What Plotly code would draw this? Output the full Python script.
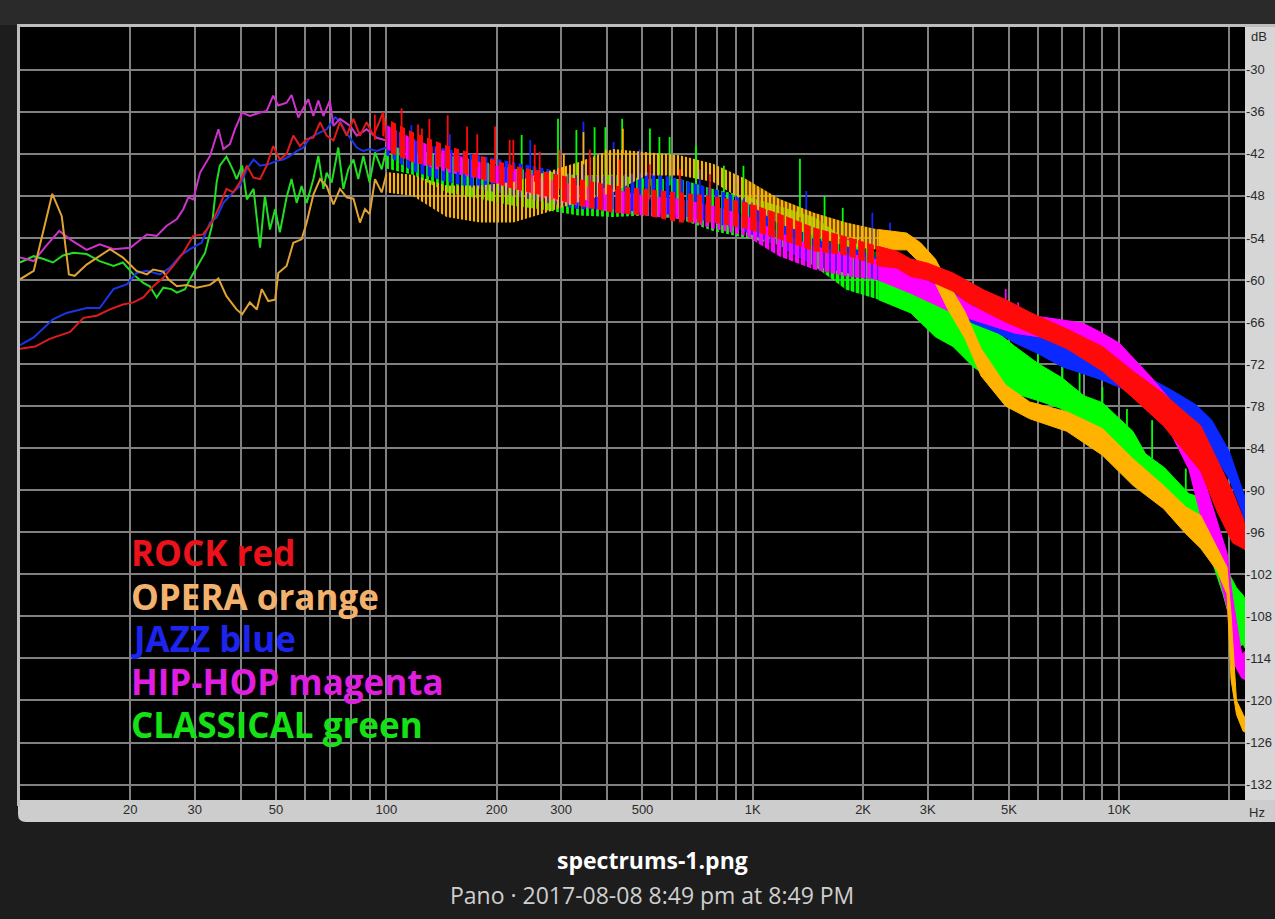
import math
import plotly.graph_objects as go

# ---------------- data ----------------
# Low-frequency thin curves (Hz, dB)
rock_line_f = [10, 11.0, 12.05, 13.7, 14.9, 16.2, 17.6, 19.1, 20.4, 21.7, 23.1, 24.6, 26.2, 27.9, 29.7, 31.6,
               33.4, 35.1, 36.6, 38.2, 39.8, 41.6, 43.4, 45.2, 47.1, 49.1, 51.2, 53.4, 55.7, 58.1, 60.6, 63.2,
               65.9, 68.7, 71.7, 74.7, 77.9, 81.3, 84.7, 88.3, 92.2, 98.0, 100]
rock_line_db = [-69.8, -69.5, -68.4, -67.4, -65.4, -65.1, -64.2, -63.5, -63.2, -62.5, -60.9, -59.7, -58.0, -56.1,
                -53.7, -53.5, -51.8, -49.4, -47.0, -47.5, -46.1, -43.7, -45.4, -45.6, -43.7, -40.9, -42.8, -42.0,
                -39.4, -40.9, -39.9, -39.7, -37.5, -39.4, -40.1, -37.5, -39.4, -37.0, -39.4, -37.5, -39.4, -36.1,
                -40.4]

opera_line_f = [10, 10.9, 12.25, 13.0, 13.6, 14.1, 15.2, 17.6, 19.1, 20.8, 22.2, 23.1, 24.6, 25.4, 26.8, 28.5,
                30.3, 33.0, 34.8, 36.6, 39.0, 40.4, 42.4, 44.3, 45.7, 47.6, 49.7, 50.7, 53.4, 55.7, 58.7, 60.6,
                63.2, 65.9, 68.7, 71.7, 74.7, 77.9, 81.3, 84.7, 87.4, 90, 93.1, 97.1, 100]
opera_line_db = [-59.9, -58.7, -47.7, -50.9, -59.2, -59.4, -57.8, -55.6, -56.8, -58.7, -59.2, -58.5, -58.8, -59.9,
                 -60.9, -60.7, -61.1, -60.7, -59.8, -62.3, -64.2, -64.9, -63.2, -64.2, -61.3, -63.0, -62.8, -59.0,
                 -58.0, -54.7, -54.2, -51.8, -47.8, -45.6, -46.6, -49.2, -47.0, -48.2, -48.4, -51.8, -49.9, -50.6,
                 -45.6, -47.5, -44.9]

jazz_line_f = [10, 10.9, 12.3, 13.4, 15.2, 16.5, 18.0, 19.6, 20.8, 22.2, 24.1, 25.7, 27.3, 29.1, 31.3, 33.0,
               34.4, 35.9, 38.2, 39.8, 41.6, 43.4, 45.2, 47.6, 50.2, 52.3, 54.6, 56.9, 59.3, 61.9, 64.5, 68.7,
               72.4, 74.7, 77.1, 79.6, 83.0, 86.5, 90, 94.1, 100]
jazz_line_db = [-69.3, -68.2, -65.6, -64.7, -64.0, -64.0, -61.3, -60.6, -59.0, -58.7, -59.2, -58.2, -56.6, -55.6,
                -54.7, -51.8, -51.1, -49.0, -47.5, -46.6, -44.2, -42.8, -43.7, -43.5, -43.0, -42.8, -42.3, -41.6,
                -41.1, -39.7, -39.2, -38.5, -36.8, -37.3, -38.7, -39.7, -41.1, -41.6, -41.3, -41.6, -41.1]

hiphop_line_f = [10, 10.9, 11.8, 12.8, 13.7, 15.2, 16.5, 18.0, 20.0, 22.2, 23.6, 25.1, 26.8, 27.9, 28.8, 29.7,
                 31.0, 33.0, 34.8, 35.9, 37.4, 38.6, 40.4, 42.4, 45.2, 47.1, 49.1, 50.7, 53.4, 55.1, 57.5, 61.2,
                 63.2, 65.2, 67.3, 70.1, 71.7, 74.7, 79.6, 83.0, 88.3, 94.1, 100]
hiphop_line_db = [-56.8, -57.3, -55.1, -53.0, -54.2, -55.7, -54.9, -55.6, -55.4, -53.5, -53.7, -52.3, -51.3, -49.9,
                  -48.2, -48.5, -44.7, -42.3, -38.5, -41.3, -40.6, -38.5, -36.1, -36.6, -36.1, -35.9, -33.7, -35.1,
                  -34.7, -33.6, -36.8, -34.2, -36.6, -34.4, -36.6, -34.4, -38.0, -37.0, -38.0, -39.4, -38.5, -39.7,
                  -40.1]

classical_line_f = [10, 10.9, 11.6, 12.3, 13.1, 14.0, 15.2, 16.5, 18.0, 19.1, 20.4, 21.7, 22.6, 23.6, 24.6, 25.9,
                    26.8, 28.2, 29.1, 30.3, 32.0, 33.4, 34.4, 35.1, 36.6, 38.2, 39.0, 40.4, 41.6, 43.4, 44.3, 45.2,
                    46.6, 48.1, 49.7, 51.2, 53.4, 55.1, 56.9, 58.7, 60.6, 63.2, 65.2, 67.3, 68.7, 70.9, 73.9, 76.3,
                    78.7, 81.3, 83.8, 86.5, 90, 93.1, 97.1, 100]
classical_line_db = [-57.5, -56.6, -57.0, -57.5, -56.5, -56.1, -56.3, -57.3, -58.0, -57.5, -59.2, -60.4, -60.9,
                     -62.5, -61.1, -61.3, -61.8, -61.3, -59.9, -58.2, -56.1, -52.3, -46.1, -43.7, -42.4, -44.4,
                     -45.6, -43.7, -48.5, -47.0, -51.3, -55.4, -48.0, -52.8, -49.9, -53.2, -48.2, -45.6, -49.0,
                     -46.6, -49.0, -45.6, -42.3, -47.0, -44.7, -46.1, -41.1, -47.0, -44.2, -42.8, -45.6, -42.3,
                     -46.1, -41.8, -44.2, -41.3]

# Noisy bands above ~100 Hz: upper and lower edge of each band (Hz, dB)
rock_band_f = [100, 118, 146, 180, 222, 272, 334, 415, 512, 632, 779, 958, 1180, 1470, 1800, 2200, 2470, 2700,
               3000, 3520, 3800, 4300, 4900, 5700, 7200, 9000, 10900, 13200, 16700, 18500, 20400, 21800, 22050]
rock_band_hi = [-37.0, -38.9, -40.8, -42.2, -43.7, -44.6, -45.6, -46.5, -47.0, -47.5, -48.0, -48.9, -50.5, -52.5,
                -53.8, -55.2, -55.9, -57.0, -57.6, -59.0, -60.0, -61.5, -62.8, -64.6, -67.0, -69.5, -73.0, -76.2,
                -80.8, -85.5, -90.2, -94.0, -95.0]
rock_band_lo = [-41.7, -43.2, -44.1, -45.6, -47.0, -48.0, -49.4, -50.4, -50.8, -51.8, -51.8, -52.7, -54.2, -55.9,
                -56.5, -58.0, -58.3, -59.5, -60.0, -61.6, -63.0, -64.5, -66.0, -67.5, -69.8, -73.0, -76.8, -80.8,
                -87.3, -93.0, -97.5, -98.3, -98.5]

jazz_band_f = [100, 118, 146, 180, 222, 272, 334, 415, 512, 632, 779, 958, 1180, 1470, 1800, 2200, 2700, 3150,
               3520, 4000, 4680, 5200, 6000, 7000, 8000, 9000, 10000, 11900, 14000, 16200, 17900, 20000, 21600, 22050]
jazz_band_hi = [-37.9, -40.0, -41.3, -42.2, -43.2, -44.1, -45.1, -45.1, -44.6, -45.6, -47.0, -48.4, -51.0, -54.2,
                -55.2, -56.6, -58.5, -60.0, -61.4, -63.3, -64.7, -66.2, -67.1, -68.6, -70.0, -71.0, -71.9, -73.8,
                -75.8, -77.8, -80.0, -84.5, -89.5, -91.0]
jazz_band_lo = [-42.2, -44.5, -46.0, -47.0, -48.0, -49.0, -49.9, -49.9, -50.4, -50.8, -51.8, -53.2, -55.2, -58.0,
                -59.0, -60.0, -61.4, -63.3, -64.7, -66.2, -67.6, -69.0, -70.5, -72.4, -73.4, -74.3, -75.3, -77.2,
                -79.5, -82.0, -84.4, -88.5, -93.0, -94.5]

hiphop_band_f = [100, 118, 146, 180, 222, 272, 334, 415, 512, 632, 779, 958, 1180, 1470, 1800, 2200, 2700, 3520,
                 4000, 5200, 6000, 7000, 8000, 9000, 10000, 12200, 14000, 15500, 17100, 18500, 19700, 20400, 21600,
                 22050]
hiphop_band_hi = [-37.9, -39.8, -41.7, -43.2, -44.1, -45.6, -46.5, -47.0, -48.0, -48.4, -49.4, -50.8, -53.2, -55.2,
                  -56.1, -57.1, -59.0, -61.9, -63.8, -65.2, -65.2, -65.7, -66.2, -67.6, -69.0, -73.8, -77.5, -81.5,
                  -88.6, -94.3, -99.0, -105.3, -113.4, -113.0]
hiphop_band_lo = [-41.3, -43.2, -44.6, -45.6, -47.0, -48.4, -49.4, -50.4, -50.8, -51.3, -52.7, -53.7, -56.6, -58.5,
                  -59.5, -60.0, -61.9, -64.7, -65.7, -67.6, -68.1, -68.6, -69.5, -71.0, -72.4, -77.5, -82.4, -87.0,
                  -95.8, -101.0, -106.7, -114.4, -116.8, -117.0]

opera_band_f = [100, 118, 146, 180, 222, 272, 334, 415, 512, 632, 779, 958, 1180, 1470, 1800, 2200, 2630, 2870,
                3150, 3400, 3800, 4200, 4900, 5700, 7200, 9000, 10900, 13200, 15200, 16700, 18500, 19700, 20200,
                20900, 21800, 22050]
opera_band_hi = [-44.6, -45.0, -46.5, -46.5, -46.0, -44.6, -43.2, -41.3, -41.7, -42.2, -43.4, -45.6, -48.4, -50.4,
                 -51.8, -52.8, -53.3, -54.7, -57.0, -60.3, -64.6, -69.8, -75.0, -77.4, -78.8, -81.2, -85.5, -89.3,
                 -92.4, -93.6, -98.1, -101.0, -107.7, -120.0, -122.0, -122.5]
opera_band_lo = [-47.5, -48.0, -51.0, -51.8, -51.8, -50.4, -48.9, -47.5, -45.1, -45.1, -46.0, -48.9, -52.0, -53.7,
                 -55.2, -55.7, -55.7, -57.6, -60.5, -64.1, -68.4, -73.7, -78.0, -79.8, -81.6, -85.0, -89.3, -92.6,
                 -96.2, -98.3, -101.5, -104.8, -117.0, -122.0, -124.4, -124.5]

classical_band_f = [100, 118, 146, 180, 222, 272, 334, 415, 512, 632, 779, 958, 1180, 1470, 1800, 2200, 2700, 3150,
                    3520, 4000, 4680, 5200, 6000, 7000, 8000, 9000, 10900, 11800, 13300, 15500, 16700, 17800, 19200,
                    20000, 20900, 21800, 22050]
classical_band_hi = [-40.8, -41.5, -42.2, -43.0, -44.1, -44.5, -45.1, -45.0, -45.6, -45.6, -47.0, -48.0, -49.5,
                     -51.0, -54.2, -56.1, -58.0, -61.4, -64.3, -66.2, -67.6, -69.5, -71.9, -74.0, -76.5, -77.5,
                     -81.6, -84.8, -86.8, -90.5, -91.0, -94.3, -98.1, -102.0, -103.9, -105.0, -105.5]
classical_band_lo = [-44.1, -45.0, -47.5, -48.4, -49.4, -50.0, -50.8, -51.0, -50.8, -51.3, -53.0, -54.0, -55.0,
                     -58.0, -61.4, -62.8, -64.7, -68.1, -69.5, -72.4, -74.8, -76.2, -77.2, -78.4, -81.0, -82.6,
                     -86.5, -89.6, -91.3, -95.8, -96.0, -99.6, -104.8, -108.2, -112.5, -112.0, -112.5]

# Isolated spikes (Hz, top dB, base dB)
rock_spike_f = [93, 98, 110, 122, 125, 131, 147, 166, 177, 198, 217, 222, 254, 262, 297, 359, 433, 523, 632, 764]
rock_spike_top = [-36.4, -36.2, -35.5, -37.8, -38.4, -37.0, -36.5, -38.1, -39.2, -38.1, -40.0, -40.0, -40.7,
                  -41.7, -41.4, -41.4, -42.8, -43.5, -44.2, -44.9]
rock_spike_base = [-40.0, -39.5, -40.0, -42.0, -41.0, -41.0, -41.5, -42.5, -44.0, -43.5, -45.0, -44.5, -46.0,
                   -45.5, -47.0, -47.5, -48.0, -48.5, -49.0, -49.5]

jazz_spike_f = [105, 117, 149, 247, 345, 417, 491, 716, 1040, 1400, 2120, 2370]
jazz_spike_top = [-38.5, -37.9, -39.2, -40.0, -37.4, -40.3, -41.4, -44.2, -47.1, -47.3, -50.4, -51.8]
jazz_spike_base = [-41.5, -41.0, -43.0, -45.5, -46.0, -46.0, -46.5, -48.5, -50.5, -53.0, -56.5, -57.5]

hiphop_spike_f = [4900, 5300]
hiphop_spike_top = [-61.3, -63.2]
hiphop_spike_base = [-64.5, -65.2]

opera_spike_f = [305, 345, 397, 442]
opera_spike_top = [-42.0, -38.9, -41.4, -38.4]
opera_spike_base = [-46.0, -43.5, -44.0, -42.0]

classical_spike_f = [234, 294, 330, 370, 396, 440, 524, 556, 593, 700, 834, 943, 1345, 1570, 1760,
                     6000, 7000, 7800, 9000, 10500, 12300, 15200]
classical_spike_top = [-39.3, -37.0, -38.6, -38.2, -38.2, -37.0, -38.4, -39.6, -39.6, -40.8, -43.7, -43.7, -42.7,
                       -48.0, -49.7, -70.0, -71.5, -72.3, -75.3, -78.4, -80.0, -86.9]
classical_spike_base = [-45.0, -45.5, -46.0, -46.0, -46.0, -46.0, -46.5, -46.5, -46.5, -47.0, -48.0, -49.0, -51.0,
                        -53.0, -55.0, -73.0, -75.0, -77.0, -78.5, -82.0, -85.5, -91.0]

# Axis ticks
grid_hz = [20, 30, 40, 50, 60, 70, 80, 90, 100, 200, 300, 400, 500, 600, 700, 800, 900,
           1000, 2000, 3000, 4000, 5000, 6000, 7000, 8000, 9000, 10000, 20000]
grid_hz_text = ["20", "30", "", "50", "", "", "", "", "100", "200", "300", "", "500", "", "", "", "",
                "1K", "2K", "3K", "", "5K", "", "", "", "", "10K", ""]
db_ticks = [-30, -36, -42, -48, -54, -60, -66, -72, -78, -84, -90, -96, -102, -108, -114, -120, -126, -132]
freq_range = [10, 22050]
db_range = [-134.2, -23.9]

legend_labels = ["ROCK red", "OPERA orange", "JAZZ blue", "HIP-HOP magenta", "CLASSICAL green"]
legend_colors = ["#ec121c", "#f2b26e", "#1c24ee", "#e01ee0", "#16e016"]

# frequencies where the band rendering goes from a sparse mesh to a denser one, then to solid
MESH_END = 958
DENSE_END = 2200

# ---------------- figure ----------------
fig = go.Figure()


def add_mesh_part(f, hi, lo, color, stripe, solidity):
    fig.add_trace(go.Scatter(x=f + f[::-1], y=hi + lo[::-1], mode="lines", fill="toself",
                             line=dict(color=color, width=0), hoverinfo="skip",
                             fillpattern=dict(shape="|", fgcolor=color, bgcolor="rgba(0,0,0,0)",
                                              size=stripe, solidity=solidity, fillmode="replace")))


def add_solid_part(f, hi, lo, color):
    fig.add_trace(go.Scatter(x=f, y=lo, mode="lines", line=dict(color=color, width=1), hoverinfo="skip"))
    fig.add_trace(go.Scatter(x=f, y=hi, mode="lines", line=dict(color=color, width=1), hoverinfo="skip",
                             fill="tonexty", fillcolor=color))


def add_series(line_f, line_db, band_f, band_hi, band_lo, sp_f, sp_top, sp_base, color, line_color, stripe):
    fig.add_trace(go.Scatter(x=line_f, y=line_db, mode="lines",
                             line=dict(color=line_color, width=2), hoverinfo="skip"))

    def sub(cond):
        idx = [i for i, f in enumerate(band_f) if cond(f)]
        return [band_f[i] for i in idx], [band_hi[i] for i in idx], [band_lo[i] for i in idx]

    f1, h1, l1 = sub(lambda f: f <= MESH_END)
    add_mesh_part(f1, h1, l1, color, stripe, 0.55)
    f2, h2, l2 = sub(lambda f: MESH_END <= f <= DENSE_END)
    add_mesh_part(f2, h2, l2, color, stripe, 0.75)
    f3, h3, l3 = sub(lambda f: f >= DENSE_END)
    add_solid_part(f3, h3, l3, color)

    xs, ys = [], []
    for f, t, b in zip(sp_f, sp_top, sp_base):
        xs += [f, f, None]
        ys += [b, t, None]
    fig.add_trace(go.Scatter(x=xs, y=ys, mode="lines", line=dict(color=color, width=1.8), hoverinfo="skip"))


add_series(classical_line_f, classical_line_db, classical_band_f, classical_band_hi, classical_band_lo,
           classical_spike_f, classical_spike_top, classical_spike_base, "#00ff00", "#22dd22", 5)
add_series(jazz_line_f, jazz_line_db, jazz_band_f, jazz_band_hi, jazz_band_lo,
           jazz_spike_f, jazz_spike_top, jazz_spike_base, "#0a28ff", "#1a36e6", 7)
add_series(hiphop_line_f, hiphop_line_db, hiphop_band_f, hiphop_band_hi, hiphop_band_lo,
           hiphop_spike_f, hiphop_spike_top, hiphop_spike_base, "#ff00ff", "#cc33cc", 6)
add_series(opera_line_f, opera_line_db, opera_band_f, opera_band_hi, opera_band_lo,
           opera_spike_f, opera_spike_top, opera_spike_base, "#ffb300", "#e0a232", 4)
add_series(rock_line_f, rock_line_db, rock_band_f, rock_band_hi, rock_band_lo,
           rock_spike_f, rock_spike_top, rock_spike_base, "#ff0a0a", "#dd1c1c", 9)

tick_font = dict(family="Liberation Sans Narrow, Arial Narrow, Liberation Sans, sans-serif", size=13, color="#2a2a2a")

fig.update_xaxes(type="log", range=[math.log10(freq_range[0]), math.log10(freq_range[1])],
                 tickmode="array", tickvals=grid_hz, ticktext=grid_hz_text, automargin=False,
                 showgrid=True, gridcolor="#808080", gridwidth=1.5, zeroline=False, showline=False,
                 ticks="", tickfont=tick_font, fixedrange=True)
fig.update_yaxes(range=db_range, side="right", tickmode="array", tickvals=db_ticks,
                 ticktext=[str(v) for v in db_ticks], automargin=False,
                 showgrid=True, gridcolor="#808080", gridwidth=1.5, zeroline=False, showline=False,
                 ticks="", tickfont=tick_font, fixedrange=True)

# panel chrome (pixel positions converted to paper units; plot area spans x 20..1245, y 27..800)
PL, PR, PT, PB = 20, 1245, 27, 800


def px(x):
    return (x - PL) / (PR - PL)


def py(y):
    return (PB - y) / (PB - PT)


shapes = []
shapes.append(dict(type="rect", xref="paper", yref="paper", x0=px(0), x1=px(1275), y0=py(25), y1=py(0),
                   fillcolor="#2a2a2a", line=dict(width=0), layer="below"))
shapes.append(dict(type="rect", xref="paper", yref="paper", x0=px(1245), x1=px(1276), y0=py(822), y1=py(25),
                   fillcolor="#d6d6d6", line=dict(width=0), layer="below"))
x0, x1, yt, yb = px(18), px(1276), py(800), py(822)
rx, ry = 8 / (PR - PL), 8 / (PB - PT)
path = (f"M {x0},{yt} L {x0},{yb + ry} Q {x0},{yb} {x0 + rx},{yb} L {x1},{yb} L {x1},{yt} Z")
shapes.append(dict(type="path", xref="paper", yref="paper", path=path,
                   fillcolor="#cdcdcd", line=dict(width=0), layer="below"))
shapes.append(dict(type="rect", xref="paper", yref="paper", x0=px(17), x1=px(20), y0=py(806), y1=py(25),
                   fillcolor="#bdbdbd", line=dict(width=0), layer="below"))
shapes.append(dict(type="rect", xref="paper", yref="paper", x0=px(17), x1=px(1276), y0=py(27), y1=py(24),
                   fillcolor="#bdbdbd", line=dict(width=0), layer="below"))
fig.update_layout(shapes=shapes)

annotations = []
leg_y = [552, 596, 638, 681, 724]
for lab, col, yy in zip(legend_labels, legend_colors, leg_y):
    annotations.append(dict(xref="paper", yref="paper", x=px(129), y=py(yy), text=lab, showarrow=False,
                            xanchor="left", yanchor="middle",
                            font=dict(family="Open Sans", size=35, color=col, weight=700)))
annotations.append(dict(xref="paper", yref="paper", x=px(1249), y=py(36), text="dB", showarrow=False,
                        xanchor="left", yanchor="middle", font=tick_font))
annotations.append(dict(xref="paper", yref="paper", x=px(1247), y=py(812), text="Hz", showarrow=False,
                        xanchor="left", yanchor="middle", font=tick_font))
annotations.append(dict(xref="paper", yref="paper", x=px(652), y=py(860), text="<b>spectrums-1.png</b>",
                        showarrow=False, xanchor="center", yanchor="middle",
                        font=dict(family="Open Sans", size=23, color="#ffffff")))
annotations.append(dict(xref="paper", yref="paper", x=px(652), y=py(895),
                        text="Pano · 2017-08-08 8:49 pm at 8:49 PM",
                        showarrow=False, xanchor="center", yanchor="middle",
                        font=dict(family="Open Sans", size=23, color="#cfcfcf")))
fig.update_layout(annotations=annotations)

fig.update_layout(width=1275, height=919, autosize=False,
                  margin=dict(l=PL, r=1275 - PR, t=PT, b=919 - PB, pad=0),
                  paper_bgcolor="#1d1d1d", plot_bgcolor="#000000", showlegend=False)

fig.write_html("out.html", config={"displayModeBar": False},
               post_script="document.body.style.margin='0';document.body.style.overflow='hidden';")
